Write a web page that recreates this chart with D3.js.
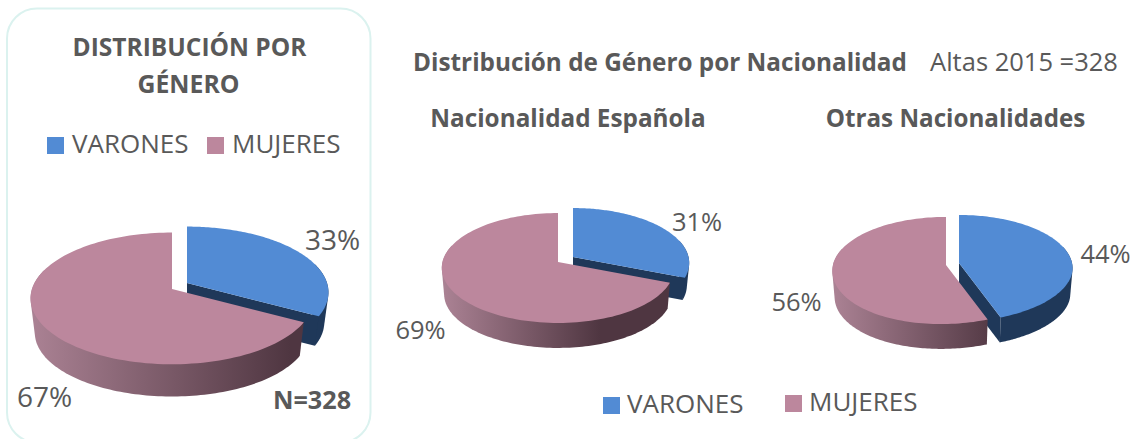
<!DOCTYPE html>
<html lang="es">
<head>
<meta charset="utf-8">
<title>Distribución de Género</title>
<script src="https://cdn.jsdelivr.net/npm/d3@7"></script>
<style>
html,body{margin:0;padding:0;background:#fff;overflow:hidden}
svg{display:block}
text{font-family:"Open Sans","Noto Sans",sans-serif;fill:#595959}
</style>
</head>
<body>
<svg id="chart" width="1137" height="439"></svg>
<script>
// ---- data ----
const categories = ["VARONES", "MUJERES"];
const totalValues = [33, 67];
const spanishValues = [31, 69];
const otherValues = [44, 56];

const palette = {top: ["#528bd4", "#bc879d"]};

// ---- layout of each 3D pie ----
const pies = [
  {values: totalValues, apex: [[187,283],[172,289]], rx: 140, ry: 64.5, p: .143, d: [30.5,34.5], k: .97, lean: 0,
   grad: [30, 290]},
  {values: spanishValues, apex: [[573,257],[558,262]], rx: 115.5, ry: 54.3, p: .109, d: [22.5,26.2], k: .98, lean: 0,
   grad: [443, 600]},
  {values: otherValues, apex: [[959,263],[946,265]], rx: 113, ry: 53, p: .103, d: [26,26], k: .98, lean: 5,
   grad: [833, 1000]}
];

const svg = d3.select("#chart");
const defs = svg.append("defs");
const pieGen = d3.pie().sort(null).startAngle(0).endAngle(2 * Math.PI);
const TAU = 2 * Math.PI;

pies.forEach((cfg, i) => {
  const grad = defs.append("linearGradient").attr("id", "wall" + i)
    .attr("gradientUnits", "userSpaceOnUse")
    .attr("x1", cfg.grad[0]).attr("x2", cfg.grad[1]).attr("y1", 0).attr("y2", 0);
  grad.append("stop").attr("offset", 0).attr("stop-color", "#ab8294");
  grad.append("stop").attr("offset", 1).attr("stop-color", "#4f3641");

  const arcs = pieGen(cfg.values);
  // projective mapping of the unit disc; the scales carry radius to pixels
  const sx = d3.scaleLinear().domain([0, 1]).range([0, cfg.rx]);
  const sy = d3.scaleLinear().domain([0, 1]).range([0, cfg.ry]);
  const project = (a, ap, dz, k) => {
    const u = Math.sin(a), v = -Math.cos(a);
    const s = 1 / (1 - cfg.p * v);
    const lean = cfg.lean * Math.max(0, v) ** 2;
    return [ap[0] + (sx(u * s) - lean) * k, ap[1] + dz + sy(v * s) * k];
  };
  const arcPts = (a0, a1, ap, dz, k) => d3.range(0, 121).map(j =>
    project(a0 + (a1 - a0) * j / 120, ap, dz, k));
  const line = d3.line();
  const g = svg.append("g");

  // blue slice sits behind the pink one
  arcs.forEach((d, idx) => {
    const ap = cfg.apex[idx];
    const depth = cfg.d[idx];
    const topArc = arcPts(d.startAngle, d.endAngle, ap, 0, 1);
    const wallFill = idx === 0 ? "#1f3859" : `url(#wall${i})`;
    // only the part of the rim that faces the viewer: hull of upper and lower rims
    const frontFrom = idx === 0 ? Math.max(d.startAngle, TAU * 0.2) : d.startAngle;
    const frontTo = idx === 0 ? d.endAngle : Math.min(d.endAngle, TAU * 0.8);
    const rim = arcPts(frontFrom, frontTo, ap, 0, 1).concat(arcPts(frontFrom, frontTo, ap, depth, cfg.k));
    g.append("path").attr("fill", wallFill).attr("d", line(d3.polygonHull(rim)) + "Z");
    if (idx === 0) {
      // inner cut face
      g.append("path").attr("fill", wallFill).attr("d", line([
        ap, topArc[120], project(d.endAngle, ap, depth, cfg.k), [ap[0], ap[1] + depth]
      ]) + "Z");
    }
    g.append("path").attr("fill", palette.top[idx])
      .attr("d", line([ap].concat(topArc)) + "Z");
  });
});

// ---- card ----
svg.append("rect").attr("x", 7).attr("y", 8.5).attr("width", 363.5).attr("height", 434).attr("rx", 30)
  .attr("fill", "none").attr("stroke", "#dbf2ef").attr("stroke-width", 2);

// ---- texts ----
const texts = [
  ["DISTRIBUCIÓN POR", 189.5, 56, 24.5, 700],
  ["GÉNERO", 188.5, 93, 24.8, 700],
  ["Distribución de Género por Nacionalidad", 660, 71, 24.3, 700],
  ["Altas 2015 =328", 1024, 71, 25.5, 400],
  ["Nacionalidad Española", 568, 127, 24.3, 700],
  ["Otras Nacionalidades", 955.5, 127, 24.2, 700],
  ["33%", 332.5, 250, 28, 400],
  ["67%", 44.5, 407, 28, 400],
  ["N=328", 312, 409, 25.2, 700],
  ["31%", 697, 231, 25.5, 400],
  ["69%", 420.5, 339, 25.5, 400],
  ["44%", 1105.5, 263, 25.5, 400],
  ["56%", 796.5, 311, 25.5, 400]
];
svg.append("g").selectAll("text").data(texts).join("text")
  .attr("x", d => d[1]).attr("y", d => d[2])
  .attr("text-anchor", "middle")
  .attr("font-size", d => d[3]).attr("font-weight", d => d[4])
  .text(d => d[0]);

// ---- legends ----
const legends = [
  [[47,137,72,153],[207,137,232,153]],
  [[603,397,627,413],[785,395,809,411]]
];
legends.forEach(L => L.forEach((pos, i) => {
  svg.append("rect").attr("x", pos[0]).attr("y", pos[1]).attr("width", 17).attr("height", 17)
    .attr("fill", palette.top[i]);
  svg.append("text").attr("x", pos[2]).attr("y", pos[3]).attr("font-size", 26).text(categories[i]);
}));
</script>
</body>
</html>
